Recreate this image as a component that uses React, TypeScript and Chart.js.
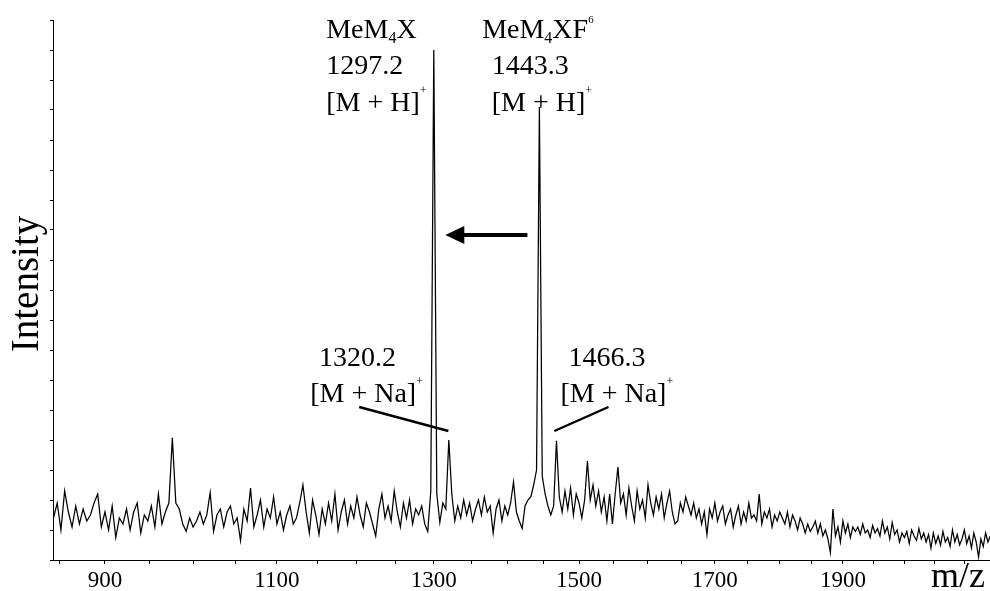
import React, { useEffect, useRef } from 'react';
import { Chart, registerables } from 'chart.js';

Chart.register(...registerables);

// ---------- data ----------
// spectrum sampled every MZ_STEP m/z starting at MZ_START
const MZ_START = 844;
const MZ_STEP = 4;
const INTENSITY = [
  1.4, 1.9, 1.0, 2.3, 1.6, 1.1, 1.8, 1.2, 1.7, 1.3,
  1.5, 1.9, 2.2, 1.1, 1.6, 1.0, 1.8, 0.75, 1.4, 1.2,
  1.7, 1.0, 1.6, 1.9, 0.9, 1.5, 1.3, 1.8, 1.1, 2.2,
  1.2, 1.6, 1.9, 4.07, 1.9, 1.7, 1.2, 0.95, 1.4, 1.1,
  1.3, 1.6, 1.2, 1.5, 2.25, 0.95, 1.5, 1.7, 1.1, 1.6,
  1.8, 1.2, 1.4, 0.65, 1.7, 1.3, 2.4, 1.1, 1.5, 2.0,
  1.1, 1.7, 1.4, 2.1, 1.2, 1.6, 1.0, 1.5, 1.8, 1.2,
  1.4, 1.9, 2.5, 1.6, 0.9, 2.0, 1.5, 0.85, 1.7, 1.2,
  1.9, 1.3, 2.2, 1.0, 1.6, 2.0, 1.2, 1.8, 1.4, 2.1,
  1.5, 1.1, 1.9, 1.6, 1.2, 0.8, 1.7, 2.2, 1.4, 1.8,
  1.3, 2.3, 1.6, 1.1, 1.9, 1.4, 2.0, 1.2, 1.7, 1.5,
  1.8, 1.2, 0.95, 2.3, 17.0, 2.2, 1.25, 1.9, 1.7, 4.0,
  2.2, 1.3, 1.8, 1.4, 2.0, 1.5, 1.9, 1.3, 1.7, 2.0,
  1.5, 2.1, 1.6, 1.8, 0.9, 1.7, 2.0, 1.3, 1.8, 1.5,
  1.9, 2.6, 1.6, 1.3, 1.05, 1.8, 2.0, 2.1, 2.5, 3.0,
  15.1, 2.8, 2.2, 1.8, 1.5, 1.8, 3.97, 2.1, 1.6, 2.3,
  1.7, 2.4, 1.5, 2.2, 1.9, 1.4, 2.0, 3.3, 2.0, 2.5,
  1.8, 2.3, 1.6, 2.1, 1.3, 2.2, 1.2, 2.2, 3.1, 1.9,
  2.2, 1.5, 2.4, 1.8, 1.3, 2.3, 1.7, 2.0, 1.4, 2.5,
  1.9, 1.5, 2.1, 1.7, 2.2, 1.4, 1.9, 2.3, 1.6, 1.2,
  1.3, 1.9, 1.6, 2.1, 1.8, 1.5, 1.9, 1.4, 1.7, 1.2,
  1.6, 0.85, 1.7, 1.4, 1.9, 1.3, 1.6, 1.8, 1.2, 1.5,
  1.7, 1.1, 1.5, 1.8, 1.2, 1.6, 1.3, 1.9, 1.4, 1.5,
  1.3, 2.2, 1.2, 1.6, 1.4, 1.7, 1.1, 1.5, 1.3, 1.6,
  1.4, 1.2, 1.6, 1.1, 1.5, 1.3, 1.0, 1.4, 1.2, 0.9,
  1.2, 0.95, 1.1, 1.3, 0.9, 1.2, 0.8, 1.0, 0.7, 0.25,
  1.7, 0.8, 1.1, 0.6, 1.3, 0.9, 1.2, 0.75, 1.1, 0.95,
  1.1, 0.85, 1.2, 0.9, 1.0, 0.75, 1.15, 0.9, 1.05, 0.8,
  1.3, 0.9, 1.1, 0.7, 1.25, 0.85, 1.0, 0.6, 0.9, 0.75,
  0.95, 0.55, 1.0, 0.8, 0.65, 1.05, 0.7, 0.9, 0.6, 0.85,
  0.4, 0.9, 0.55, 0.8, 0.5, 0.95, 0.6, 0.75, 0.45, 1.0,
  0.6, 0.85, 0.5, 0.7, 1.0, 0.55, 0.8, 0.4, 0.9, 0.6,
  0.1, 0.7, 0.45, 0.9, 0.6, 0.8,
];

// axis (time-of-flight style: positions follow sqrt(m/z))
const MZ_RANGE = [843.5, 2143.5];
const TICK_MZ = [
  850, 900, 950, 1000, 1050, 1100, 1150, 1200, 1250, 1300, 1350, 1400, 1450,
  1500, 1550, 1600, 1650, 1700, 1750, 1800, 1850, 1900, 1950, 2000, 2050, 2100,
];
const LABELED_MZ = [900, 1100, 1300, 1500, 1700, 1900];
const Y_RANGE = [0, 18];

// ---------- annotations (anchored in data units) ----------
type Part = { t: string; size?: number; dy?: number };
const NOTE_SIZE = 28;
const SUB4: Part = { t: '4', size: 16, dy: 5 };
const SUP_PLUS: Part = { t: '+', size: 12, dy: -17 };
const TEXT_NOTES: { mz: number; y: number; parts: Part[] }[] = [
  { mz: 1161, y: 17.4, parts: [{ t: 'MeM' }, SUB4, { t: 'X' }] },
  { mz: 1161, y: 16.2, parts: [{ t: '1297.2' }] },
  { mz: 1161, y: 14.97, parts: [{ t: '[M + H]' }, SUP_PLUS] },
  { mz: 1365, y: 17.4, parts: [{ t: 'MeM' }, SUB4, { t: 'XF' }, { t: '6', size: 11, dy: -15 }] },
  { mz: 1378, y: 16.2, parts: [{ t: '1443.3' }] },
  { mz: 1378, y: 14.97, parts: [{ t: '[M + H]' }, SUP_PLUS] },
  { mz: 1152, y: 6.47, parts: [{ t: '1320.2' }] },
  { mz: 1141, y: 5.27, parts: [{ t: '[M + Na]' }, SUP_PLUS] },
  { mz: 1485, y: 6.47, parts: [{ t: '1466.3' }] },
  { mz: 1473.6, y: 5.27, parts: [{ t: '[M + Na]' }, SUP_PLUS] },
];
const LEADERS = [
  { from: [1202.8, 5.1], to: [1319.4, 4.3] },
  { from: [1465, 4.3], to: [1542.3, 5.1] },
];
const ARROW = { fromMz: 1427.3, toMz: 1315.3, y: 10.83 };

const SERIF = '"Liberation Serif", "Times New Roman", serif';

function drawRich(ctx: CanvasRenderingContext2D, parts: Part[], x: number, y: number) {
  let cx = x;
  for (const p of parts) {
    const fs = p.size ?? NOTE_SIZE;
    ctx.font = `${fs}px ${SERIF}`;
    ctx.fillText(p.t, cx, y + (p.dy ?? 0));
    cx += ctx.measureText(p.t).width;
  }
}

const annotationPlugin = {
  id: 'spectrumNotes',
  afterDraw(chart: any) {
    const ctx: CanvasRenderingContext2D = chart.ctx;
    const xs = chart.scales.x;
    const ys = chart.scales.y;
    const px = (m: number) => xs.getPixelForValue(Math.sqrt(m));
    const py = (v: number) => ys.getPixelForValue(v);
    const area = chart.chartArea;
    ctx.save();
    ctx.fillStyle = '#000';
    ctx.strokeStyle = '#000';
    ctx.textBaseline = 'alphabetic';
    ctx.textAlign = 'left';
    for (const n of TEXT_NOTES) drawRich(ctx, n.parts, px(n.mz), py(n.y));

    ctx.lineWidth = 2.4;
    ctx.lineCap = 'butt';
    for (const l of LEADERS) {
      ctx.beginPath();
      ctx.moveTo(px(l.from[0]), py(l.from[1]));
      ctx.lineTo(px(l.to[0]), py(l.to[1]));
      ctx.stroke();
    }

    // arrow
    const ay = py(ARROW.y);
    const tip = px(ARROW.toMz);
    const tail = px(ARROW.fromMz);
    ctx.lineWidth = 4;
    ctx.beginPath();
    ctx.moveTo(tail, ay);
    ctx.lineTo(tip + 16, ay);
    ctx.stroke();
    ctx.beginPath();
    ctx.moveTo(tip, ay);
    ctx.lineTo(tip + 19, ay - 9);
    ctx.lineTo(tip + 19, ay + 9);
    ctx.closePath();
    ctx.fill();

    // axis titles
    ctx.font = `39px ${SERIF}`;
    ctx.textAlign = 'center';
    ctx.save();
    ctx.translate(area.left - 15, (area.top + area.bottom) / 2 - 6);
    ctx.rotate(-Math.PI / 2);
    ctx.fillText('Intensity', 0, 0);
    ctx.restore();

    ctx.font = `36px ${SERIF}`;
    ctx.textAlign = 'right';
    ctx.fillText('m/z', area.right - 5, chart.height - 4);
    ctx.restore();
  },
};

export default function App() {
  const ref = useRef<HTMLCanvasElement>(null);
  useEffect(() => {
    const canvas = ref.current;
    if (!canvas) return;
    const points = INTENSITY.map((v, i) => ({ x: Math.sqrt(MZ_START + i * MZ_STEP), y: v }));
    const chart = new Chart(canvas, {
      type: 'line',
      data: {
        datasets: [
          {
            data: points,
            borderColor: '#000',
            borderWidth: 1.25,
            pointRadius: 0,
            tension: 0,
            fill: false,
          },
        ],
      },
      options: {
        animation: false,
        responsive: false,
        maintainAspectRatio: false,
        devicePixelRatio: 1,
        layout: { padding: { top: 20, right: 0, left: 0, bottom: 0 } },
        plugins: { legend: { display: false }, tooltip: { enabled: false } },
        scales: {
          x: {
            type: 'linear',
            min: Math.sqrt(MZ_RANGE[0]),
            max: Math.sqrt(MZ_RANGE[1]),
            afterBuildTicks: (s: any) => {
              s.ticks = TICK_MZ.map((m) => ({ value: Math.sqrt(m) }));
            },
            afterFit: (s: any) => {
              s.height = 31;
            },
            grid: { drawOnChartArea: false, drawTicks: true, tickLength: 4, color: '#000', tickWidth: 1 },
            border: { display: true, color: '#000', width: 1 },
            ticks: {
              autoSkip: false,
              maxRotation: 0,
              minRotation: 0,
              padding: 3,
              color: '#000',
              font: { family: SERIF, size: 23 },
              callback: (v: any) => {
                const m = Math.round(Number(v) * Number(v));
                return LABELED_MZ.includes(m) ? String(m) : '';
              },
            },
          },
          y: {
            min: Y_RANGE[0],
            max: Y_RANGE[1],
            afterFit: (s: any) => {
              s.width = 53;
            },
            grid: { drawOnChartArea: false, drawTicks: true, tickLength: 3, color: '#000', tickWidth: 1 },
            border: { display: true, color: '#000', width: 1 },
            ticks: { display: false, stepSize: 1 },
          },
        },
      },
      plugins: [annotationPlugin],
    } as any);
    return () => chart.destroy();
  }, []);
  return (
    <div style={{ position: 'fixed', left: 0, top: 0, width: 990, height: 591, background: '#fff' }}>
      <canvas ref={ref} width={990} height={591} style={{ display: 'block', width: 990, height: 591 }} />
    </div>
  );
}
